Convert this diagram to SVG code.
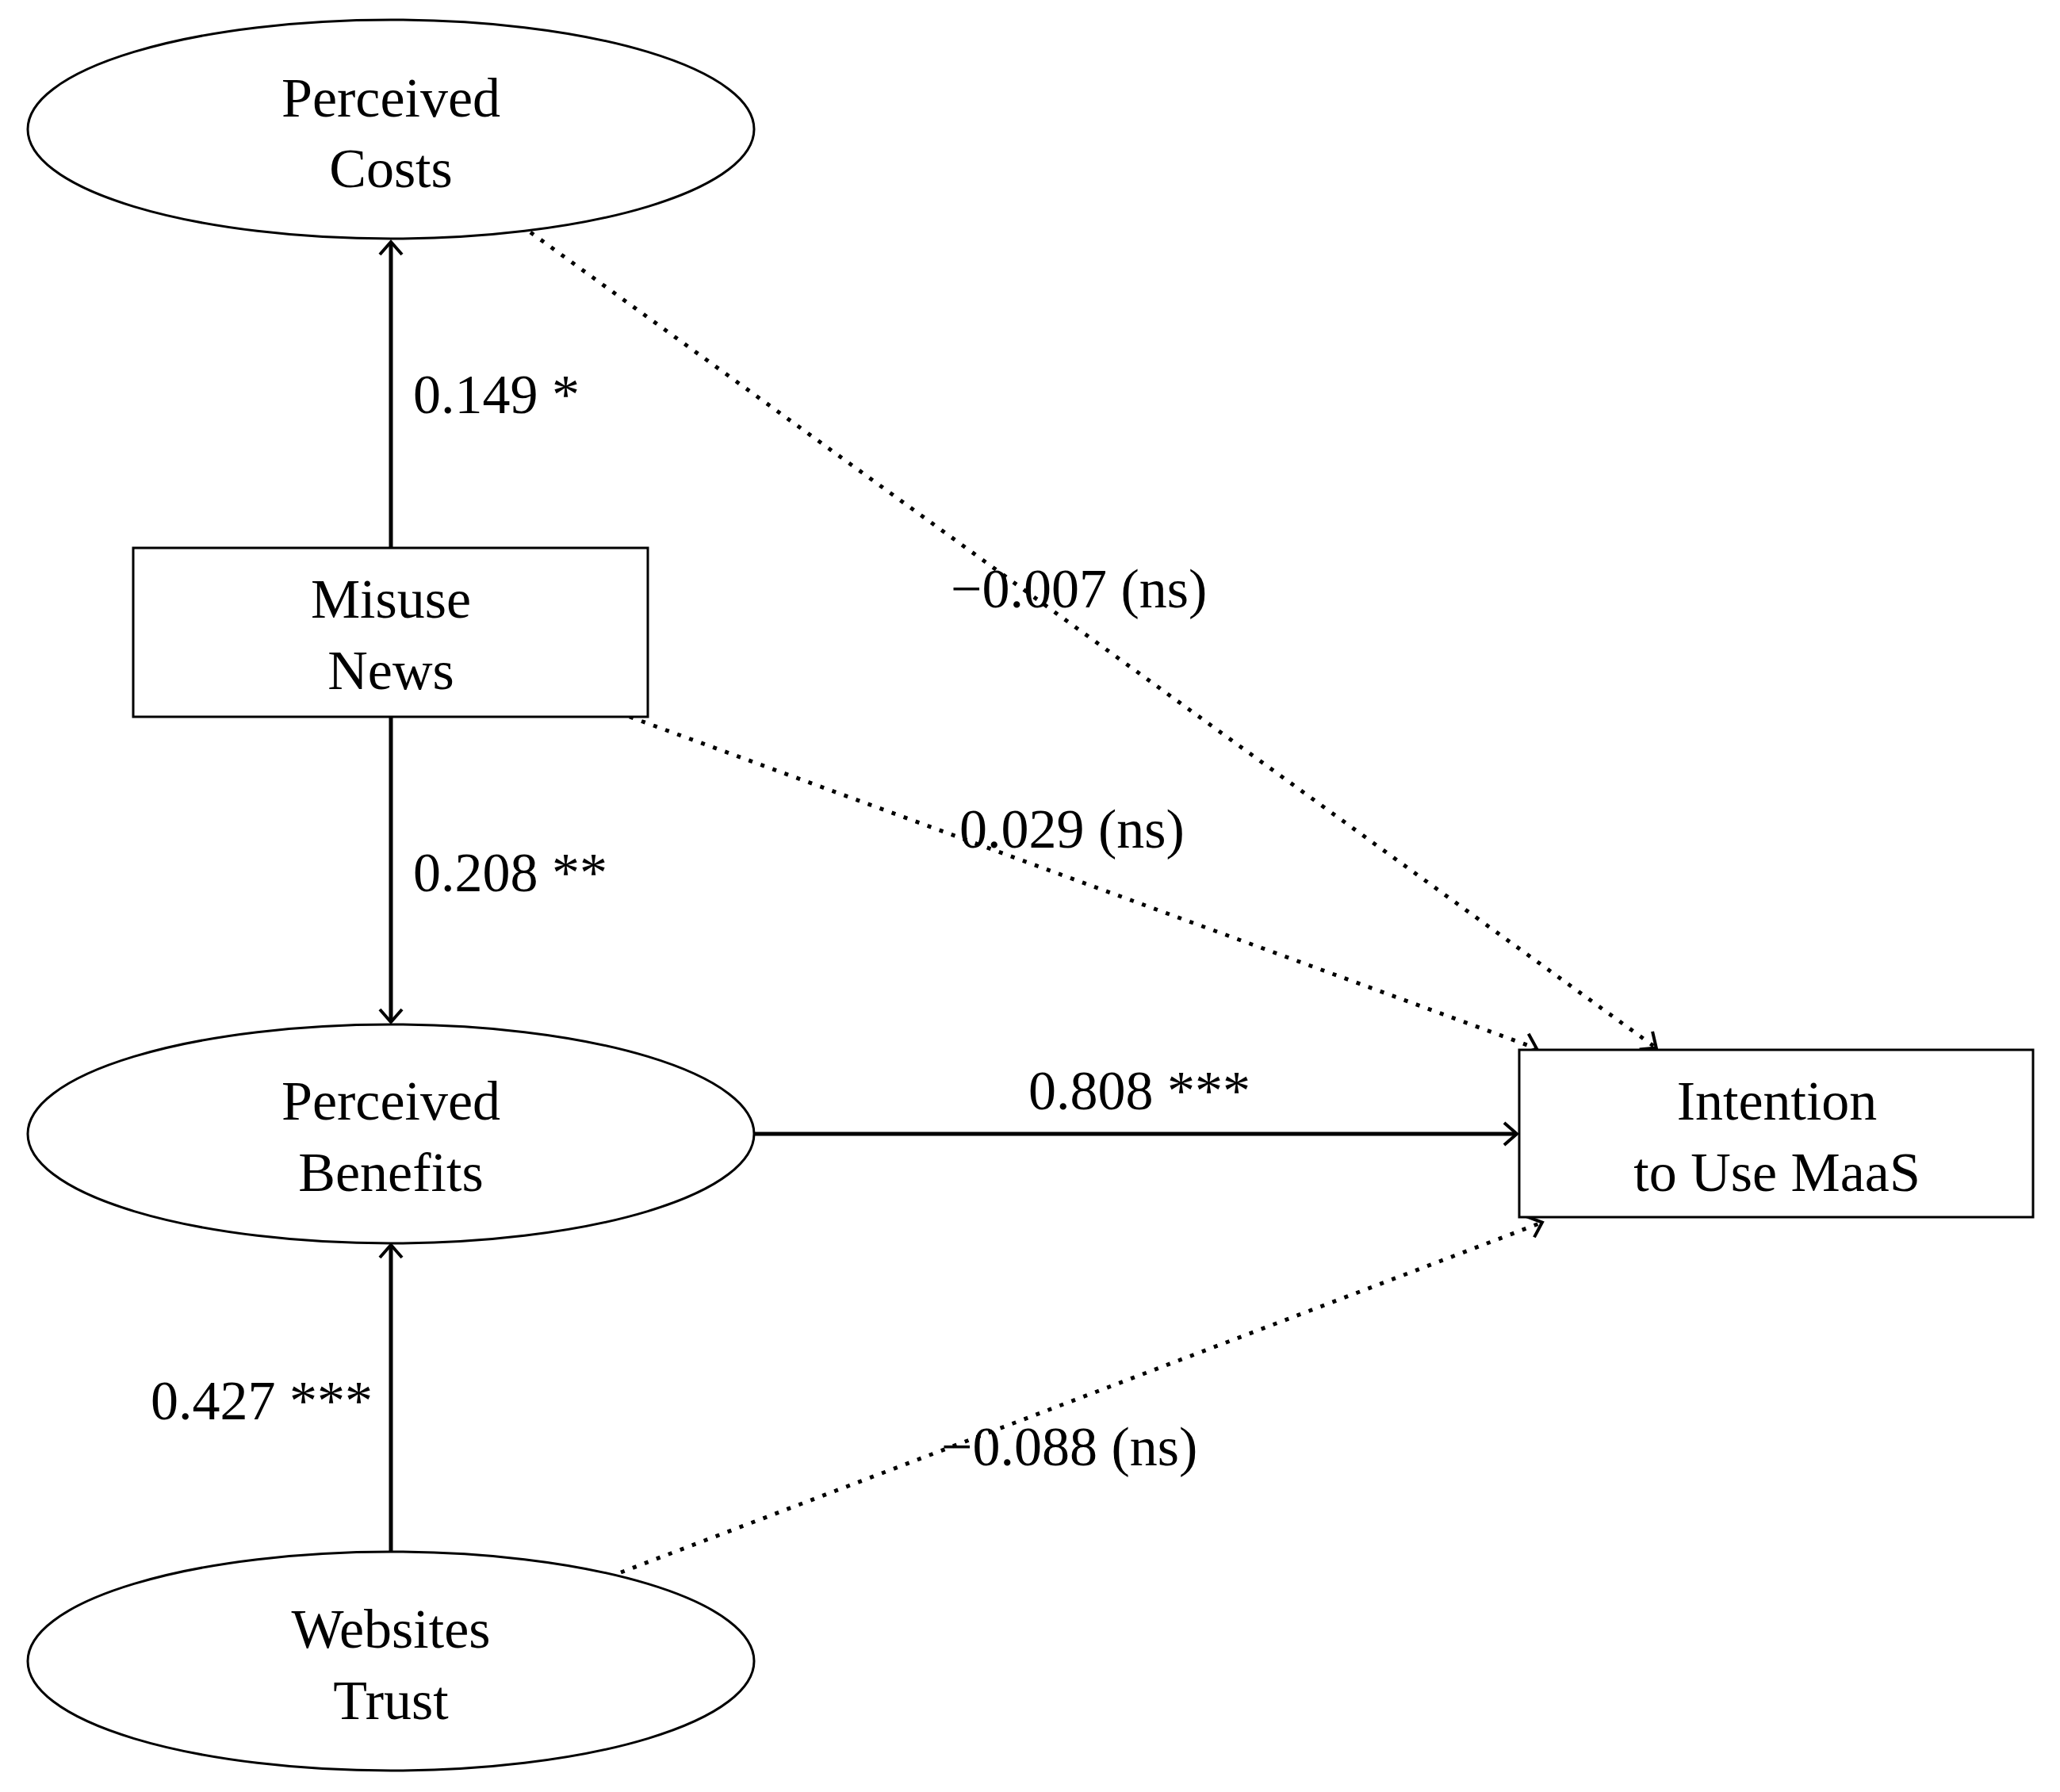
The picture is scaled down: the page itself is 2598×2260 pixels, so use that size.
<svg xmlns="http://www.w3.org/2000/svg" width="2598" height="2260" viewBox="0 0 2598 2260">
<style>
.n{fill:#fff;stroke:#000;stroke-width:3}
.t{font-family:"Liberation Serif",serif;font-size:70px;fill:#000}
.c{text-anchor:middle}
.s{fill:none;stroke:#000;stroke-width:5}
.d{fill:none;stroke:#000;stroke-width:5;stroke-dasharray:5 11}
</style>
<defs>
<marker id="a" markerWidth="12" markerHeight="12" refX="9" refY="6" orient="auto" markerUnits="userSpaceOnUse" viewBox="0 0 12 12" overflow="visible">
<path d="M-6,-8 Q2,-1 10,6 Q2,13 -6,20" transform="translate(0,0)" fill="none" stroke="#000" stroke-width="4"/>
</marker>
</defs>
<rect width="2598" height="2260" fill="#fff"/>
<g id="connectors">
<line class="s" x1="493" y1="691" x2="493" y2="306" marker-end="url(#a)"/>
<line class="s" x1="493" y1="904" x2="493" y2="1288" marker-end="url(#a)"/>
<line class="s" x1="493" y1="1956" x2="493" y2="1571" marker-end="url(#a)"/>
<line class="s" x1="951" y1="1430" x2="1912" y2="1430" marker-end="url(#a)"/>
<line class="d" x1="669" y1="293" x2="2088" y2="1321" marker-end="url(#a)"/>
<line class="d" x1="794" y1="904" x2="1937" y2="1322" marker-end="url(#a)"/>
<line class="d" x1="783" y1="1983" x2="1944" y2="1542" marker-end="url(#a)"/>
</g>
<g id="pc"><ellipse class="n" cx="493" cy="163" rx="458" ry="138"/><text class="t c" x="493" y="147">Perceived</text><text class="t c" x="493" y="236">Costs</text></g>
<g id="mn"><rect class="n" x="168" y="691" width="649" height="213"/><text class="t c" x="493" y="779">Misuse</text><text class="t c" x="493" y="869">News</text></g>
<g id="pb"><ellipse class="n" cx="493" cy="1430" rx="458" ry="138"/><text class="t c" x="493" y="1412">Perceived</text><text class="t c" x="493" y="1502">Benefits</text></g>
<g id="wt"><ellipse class="n" cx="493" cy="2095" rx="458" ry="138"/><text class="t c" x="493" y="2078">Websites</text><text class="t c" x="493" y="2168">Trust</text></g>
<g id="iu"><rect class="n" x="1916" y="1324" width="648" height="211"/><text class="t c" x="2241" y="1412">Intention</text><text class="t c" x="2241" y="1502">to Use MaaS</text></g>
<g id="labels">
<text class="t" x="521" y="521">0.149 *</text>
<text class="t" x="521" y="1124">0.208 **</text>
<text class="t" x="190" y="1790">0.427 ***</text>
<text class="t" x="1297" y="1399">0.808 ***</text>
<text class="t" x="1199" y="766">−0.007 (ns)</text>
<text class="t" x="1210" y="1069">0.029 (ns)</text>
<text class="t" x="1187" y="1848">−0.088 (ns)</text>
</g>
</svg>
